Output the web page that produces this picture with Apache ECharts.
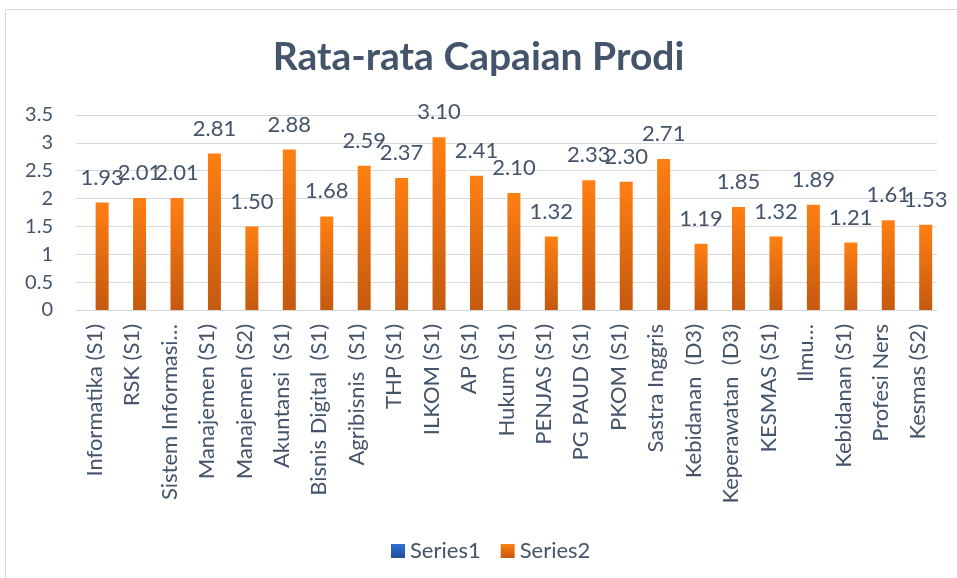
<!DOCTYPE html>
<html>
<head>
<meta charset="utf-8">
<script src="https://cdn.jsdelivr.net/npm/echarts@6/dist/echarts.min.js"></script>
<style>
  html, body { margin: 0; padding: 0; background: #fff; }
  #chart { width: 957px; height: 578px; }
</style>
</head>
<body>
<div id="chart"></div>
<script>
// Study programmes on the x axis
const categories = [
  'Informatika (S1)', 'RSK (S1)', 'Sistem Informasi…', 'Manajemen (S1)',
  'Manajemen (S2)', 'Akuntansi  (S1)', 'Bisnis Digital  (S1)', 'Agribisnis  (S1)',
  'THP (S1)', 'ILKOM (S1)', 'AP (S1)', 'Hukum (S1)', 'PENJAS (S1)',
  'PG PAUD (S1)', 'PKOM (S1)', 'Sastra Inggris', 'Kebidanan  (D3)',
  'Keperawatan  (D3)', 'KESMAS (S1)', 'Ilmu…', 'Kebidanan (S1)',
  'Profesi Ners', 'Kesmas (S2)'
];

// Series1 holds no values; Series2 holds the average scores
const series1Values = categories.map(() => null);
const series2Values = [
  1.93, 2.01, 2.01, 2.81, 1.50, 2.88, 1.68, 2.59, 2.37, 3.10, 2.41, 2.10,
  1.32, 2.33, 2.30, 2.71, 1.19, 1.85, 1.32, 1.89, 1.21, 1.61, 1.53
];

// Value axis ticks
const yMin = 0;
const yMax = 3.5;
const yStep = 0.5;

const textColor = '#44546a';
const fontFamily = 'Lato, "Open Sans", sans-serif';

const chart = echarts.init(document.getElementById('chart'));
chart.setOption({
  backgroundColor: '#ffffff',
  textStyle: { fontFamily: fontFamily, color: textColor },
  graphic: [{
    type: 'rect',
    shape: { x: 5.5, y: 9.5, width: 1200, height: 1200 },
    style: { fill: 'none', stroke: '#d9d9d9', lineWidth: 1 },
    silent: true
  }],
  title: {
    text: 'Rata-rata Capaian Prodi',
    left: 'center',
    top: 33,
    textStyle: { fontFamily: fontFamily, fontSize: 39, fontWeight: 'bold', color: textColor }
  },
  legend: {
    left: 386,
    top: 535,
    itemWidth: 14,
    itemHeight: 14,
    itemGap: 20,
    icon: 'rect',
    textStyle: { fontFamily: fontFamily, fontSize: 22, color: textColor },
    data: ['Series1', 'Series2']
  },
  grid: { left: 76, right: 20, top: 115, bottom: 268, containLabel: false },
  xAxis: {
    type: 'category',
    data: categories,
    axisLine: { lineStyle: { color: '#d9d9d9', width: 1 } },
    axisTick: { show: false },
    axisLabel: {
      rotate: 90,
      interval: 0,
      margin: 14,
      fontFamily: fontFamily,
      fontSize: 22,
      color: textColor
    }
  },
  yAxis: {
    type: 'value',
    min: yMin,
    max: yMax,
    interval: yStep,
    axisLine: { show: false },
    axisTick: { show: false },
    splitLine: { lineStyle: { color: '#d9d9d9', width: 1 } },
    axisLabel: {
      margin: 23,
      fontFamily: fontFamily,
      fontSize: 20,
      color: textColor
    }
  },
  series: [
    {
      name: 'Series1',
      type: 'bar',
      data: series1Values,
      barWidth: 13,
      barGap: '14%',
      itemStyle: {
        color: new echarts.graphic.LinearGradient(0, 0, 0, 1, [
          { offset: 0, color: '#2f6fd6' },
          { offset: 1, color: '#1f4e9c' }
        ])
      }
    },
    {
      name: 'Series2',
      type: 'bar',
      data: series2Values,
      barWidth: 13,
      itemStyle: {
        color: new echarts.graphic.LinearGradient(0, 0, 0, 1, [
          { offset: 0, color: '#ff7f12' },
          { offset: 1, color: '#c5590f' }
        ])
      },
      label: {
        show: true,
        position: 'top',
        distance: 14,
        fontFamily: fontFamily,
        fontSize: 22,
        color: textColor,
        formatter: p => p.value.toFixed(2)
      }
    }
  ]
});
</script>
</body>
</html>
